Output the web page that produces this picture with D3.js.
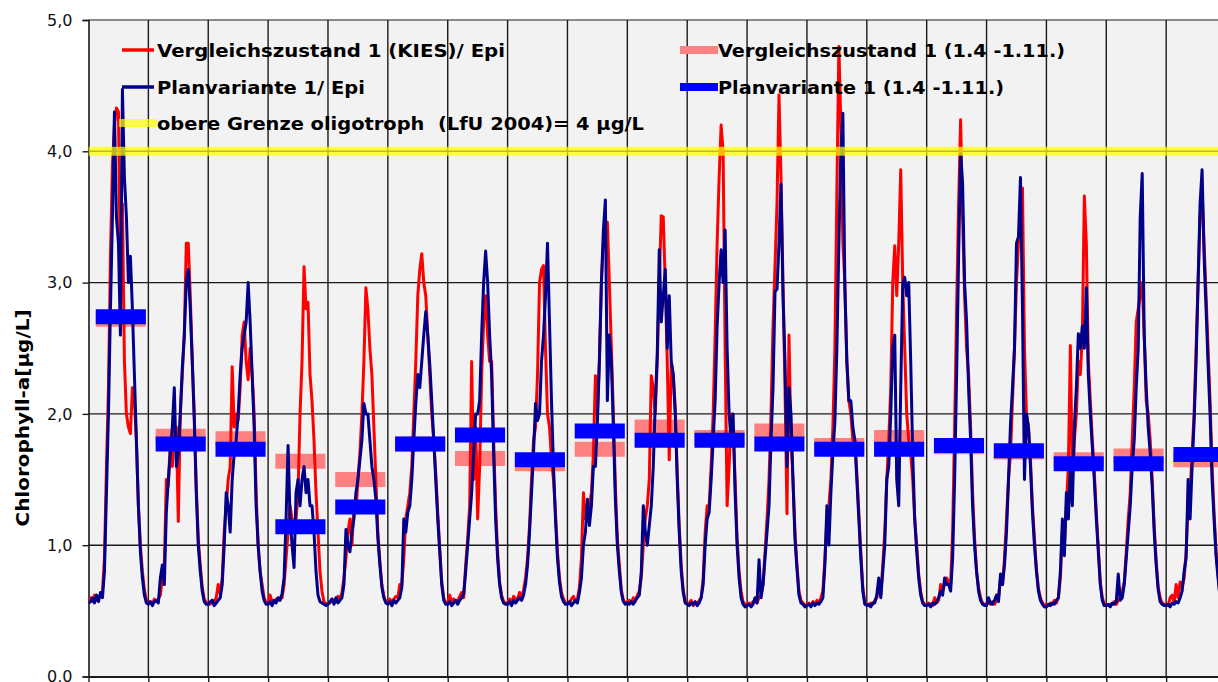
<!DOCTYPE html>
<html><head><meta charset="utf-8">
<script src="https://cdn.jsdelivr.net/npm/d3@7"></script>
<style>
body{margin:0;background:#fff;}
svg{display:block;}
text{font-family:"DejaVu Sans",Verdana,sans-serif;white-space:pre;}
</style>
</head><body>
<svg id="chart" width="1218" height="682"></svg>
<script>
// ---------------- data ----------------
const simYears = [1,2,3,4,5,6,7,8,9,10,11,12,13,14,15,16,17,18,19];
const samplesPerYear = 30;            // samples per year
// Vergleichszustand 1 (KIES) / Epi  (one row per year)
const kiesEpi = [
[0.57,0.6,0.57,0.62,0.58,0.6,0.62,0.65,0.9,1.6,2.2,3.2,3.9,4.2,4.33,4.3,3.0,3.6,2.4,2.0,1.9,1.85,2.2,2.1,1.8,1.3,1.0,0.8,0.66,0.58],
[0.56,0.57,0.55,0.59,0.57,0.59,0.62,0.75,0.85,1.5,1.45,1.8,1.6,1.9,1.9,1.18,2.0,2.3,2.6,3.3,3.3,2.9,2.4,2.0,1.45,1.05,0.85,0.68,0.59,0.56],
[0.56,0.55,0.58,0.57,0.6,0.7,0.63,0.75,1.1,1.3,1.5,1.6,2.36,1.9,2.0,1.95,2.2,2.6,2.7,2.4,2.26,2.5,2.3,2.0,1.4,1.0,0.8,0.7,0.6,0.56],
[0.56,0.62,0.57,0.57,0.59,0.58,0.6,0.6,0.7,0.9,1.1,1.3,1.2,1.1,1.2,1.4,2.0,2.4,3.12,2.8,2.85,2.3,2.1,1.8,1.4,1.1,0.8,0.65,0.57,0.55],
[0.56,0.56,0.59,0.57,0.57,0.61,0.59,0.64,0.75,0.9,1.1,1.2,1.0,1.3,1.25,1.5,1.7,2.0,2.4,2.96,2.8,2.5,2.3,1.9,1.5,1.1,0.88,0.7,0.61,0.57],
[0.56,0.59,0.57,0.59,0.61,0.6,0.7,0.7,0.9,1.2,1.3,1.4,1.6,2.0,2.4,2.9,3.1,3.22,3.0,2.9,2.6,2.3,2.0,1.8,1.55,1.25,0.98,0.72,0.6,0.56],
[0.56,0.62,0.57,0.59,0.57,0.58,0.61,0.64,0.6,0.85,1.05,1.3,2.4,1.5,1.9,1.2,1.6,2.3,2.7,2.9,2.6,2.4,2.4,1.8,1.3,0.95,0.72,0.62,0.57,0.56],
[0.56,0.59,0.56,0.61,0.59,0.59,0.64,0.6,0.66,0.75,0.9,1.15,1.5,1.8,1.9,2.3,3.0,3.1,3.13,2.5,2.0,1.9,1.65,1.5,1.25,0.95,0.75,0.64,0.59,0.56],
[0.56,0.56,0.59,0.61,0.57,0.59,0.68,0.9,1.4,1.2,1.3,1.3,1.4,1.7,2.29,2.0,2.4,3.0,3.3,3.4,3.46,3.0,2.5,2.0,1.45,1.05,0.85,0.66,0.58,0.56],
[0.57,0.58,0.56,0.6,0.57,0.62,0.65,0.75,1.0,1.2,1.3,1.5,2.29,2.2,2.0,2.4,3.0,3.51,3.5,3.0,2.4,1.65,2.4,2.3,2.05,1.55,1.15,0.85,0.66,0.57],
[0.55,0.56,0.58,0.54,0.56,0.55,0.58,0.6,0.75,1.1,1.3,1.3,1.6,2.0,2.6,3.3,3.8,4.2,4.0,2.5,1.3,1.6,2.0,1.9,1.5,1.05,0.8,0.65,0.57,0.55],
[0.55,0.56,0.55,0.57,0.58,0.56,0.6,0.62,0.7,0.95,1.2,1.5,2.0,2.67,3.13,3.6,4.43,3.8,3.0,2.2,1.24,2.6,1.8,1.5,1.1,0.85,0.65,0.58,0.56,0.54],
[0.55,0.56,0.54,0.57,0.55,0.58,0.56,0.6,0.65,0.9,1.2,1.3,1.5,1.9,2.5,3.7,4.8,4.2,3.3,3.0,2.4,2.1,2.0,1.8,1.8,1.55,1.25,0.95,0.68,0.56],
[0.55,0.54,0.56,0.55,0.58,0.6,0.7,0.62,0.85,1.1,1.5,1.8,2.2,3.0,3.28,2.9,3.3,3.86,3.0,2.5,2.0,1.8,1.7,1.5,1.2,1.0,0.78,0.65,0.57,0.55],
[0.55,0.56,0.55,0.54,0.6,0.56,0.58,0.7,0.65,0.7,0.75,0.72,0.7,1.1,1.9,2.8,3.6,4.24,3.5,2.9,2.5,2.3,1.9,1.4,1.05,0.8,0.68,0.6,0.56,0.55],
[0.55,0.56,0.55,0.57,0.55,0.58,0.6,0.75,0.7,0.9,1.2,1.5,1.7,2.1,2.5,3.0,3.3,3.4,3.72,2.5,2.0,1.9,1.65,1.3,1.05,0.82,0.67,0.6,0.56,0.54],
[0.55,0.54,0.56,0.55,0.58,0.56,0.6,0.75,1.1,1.0,1.3,1.6,2.52,1.5,1.8,2.0,2.4,2.3,2.6,3.66,3.3,2.4,2.1,1.8,1.55,1.25,0.98,0.72,0.6,0.55],
[0.55,0.54,0.55,0.55,0.57,0.55,0.58,0.6,0.65,0.72,0.95,1.2,1.4,1.8,2.2,2.7,2.8,2.9,3.0,2.6,2.1,2.0,1.8,1.5,1.15,0.88,0.68,0.6,0.56,0.55],
[0.55,0.54,0.6,0.62,0.56,0.7,0.6,0.72,0.68,0.75,0.95,1.3,1.4,1.7,2.0,2.5,3.0,3.5,3.7,3.3,2.9,2.5,2.1,1.6,1.25,0.95,0.78,0.62,0.57,0.55]
];
// Planvariante 1 / Epi
const planEpi = [
[0.56,0.57,0.6,0.56,0.62,0.57,0.64,0.6,0.8,1.4,2.0,2.8,3.5,4.3,3.5,3.3,2.6,4.47,3.8,3.5,3.0,3.2,2.8,2.3,1.8,1.3,0.95,0.75,0.62,0.56],
[0.55,0.57,0.54,0.57,0.58,0.56,0.75,0.85,0.7,1.25,1.5,1.7,1.9,2.2,1.6,1.7,2.0,2.35,2.6,3.0,3.1,2.8,2.4,1.95,1.4,1.0,0.8,0.65,0.57,0.55],
[0.55,0.57,0.58,0.54,0.56,0.58,0.6,0.7,1.0,1.4,1.3,1.1,1.5,1.7,1.8,2.0,2.3,2.5,2.6,2.7,3.0,2.7,2.3,1.9,1.3,1.0,0.8,0.65,0.58,0.55],
[0.55,0.57,0.54,0.58,0.56,0.6,0.58,0.63,0.75,1.2,1.76,1.2,1.0,0.83,1.4,1.5,1.3,1.5,1.6,1.4,1.5,1.3,1.3,1.1,0.8,0.62,0.57,0.56,0.55,0.54],
[0.55,0.57,0.59,0.55,0.6,0.56,0.58,0.6,0.7,1.12,1.0,0.95,1.1,1.2,1.4,1.5,1.65,1.8,2.08,2.0,2.0,1.8,1.6,1.5,1.35,1.05,0.85,0.68,0.6,0.56],
[0.55,0.57,0.54,0.58,0.56,0.58,0.6,0.68,1.2,1.1,1.25,1.3,1.5,1.8,2.08,2.3,2.2,2.4,2.6,2.78,2.6,2.38,2.1,1.8,1.5,1.2,0.95,0.7,0.58,0.55],
[0.55,0.57,0.54,0.56,0.58,0.55,0.58,0.6,0.63,0.8,1.0,1.2,1.4,1.7,2.0,2.0,2.1,2.6,3.0,3.24,3.0,2.6,2.3,1.7,1.2,0.9,0.7,0.6,0.56,0.55],
[0.55,0.57,0.54,0.58,0.56,0.58,0.6,0.58,0.62,0.7,0.85,1.1,1.4,1.7,2.08,1.95,2.0,2.4,2.6,2.9,3.3,2.7,2.1,1.6,1.2,0.9,0.72,0.61,0.57,0.55],
[0.55,0.57,0.54,0.56,0.58,0.56,0.64,0.75,1.0,1.1,1.35,1.15,1.3,1.6,1.6,1.94,2.4,3.0,3.4,3.63,2.1,2.6,2.4,1.9,1.35,1.0,0.8,0.64,0.57,0.55],
[0.56,0.55,0.57,0.55,0.58,0.6,0.62,0.8,1.3,1.1,1.0,1.15,1.3,1.6,2.08,2.46,3.25,2.7,2.9,3.1,2.5,2.9,2.4,2.3,2.0,1.5,1.1,0.8,0.64,0.56],
[0.55,0.54,0.56,0.55,0.57,0.54,0.56,0.6,0.7,1.0,1.2,1.25,1.5,1.8,2.1,2.67,3.0,3.25,3.0,3.4,2.5,2.0,1.8,2.0,1.4,1.0,0.75,0.6,0.55,0.53],
[0.54,0.55,0.53,0.55,0.6,0.56,0.89,0.6,0.7,0.9,1.1,1.3,1.8,2.2,2.93,2.95,3.3,3.75,2.9,2.4,1.6,2.2,2.0,1.5,1.05,0.82,0.62,0.56,0.55,0.53],
[0.54,0.55,0.53,0.56,0.54,0.56,0.55,0.57,0.6,0.85,1.3,1.0,1.4,1.7,1.94,2.5,3.3,4.0,4.29,2.96,2.4,2.1,2.1,1.9,1.8,1.5,1.2,0.9,0.65,0.55],
[0.54,0.55,0.53,0.56,0.56,0.62,0.75,0.6,0.8,1.0,1.5,1.6,2.0,2.5,2.6,1.5,1.3,2.2,2.99,3.04,2.9,3.0,2.4,1.7,1.2,0.95,0.75,0.62,0.56,0.54],
[0.54,0.55,0.53,0.56,0.55,0.57,0.6,0.65,0.62,0.75,0.7,0.7,0.65,0.9,1.5,2.3,3.2,3.98,3.75,3.0,2.7,2.2,1.8,1.3,1.0,0.8,0.65,0.58,0.55,0.54],
[0.54,0.6,0.56,0.55,0.58,0.62,0.57,0.78,0.7,0.85,1.1,1.5,1.92,2.2,2.5,3.3,3.35,3.8,2.8,1.5,2.0,1.9,1.6,1.25,1.0,0.8,0.65,0.58,0.55,0.53],
[0.53,0.55,0.54,0.56,0.55,0.58,0.6,0.8,1.2,0.92,1.4,1.2,1.6,1.3,1.9,2.2,2.61,2.5,2.67,2.5,2.96,2.3,2.0,1.75,1.5,1.2,0.95,0.7,0.58,0.54],
[0.54,0.55,0.53,0.56,0.55,0.57,0.78,0.58,0.6,0.7,0.9,1.1,1.3,1.6,1.8,2.2,2.5,3.5,3.83,2.6,2.2,1.9,1.7,1.45,1.1,0.85,0.66,0.57,0.55,0.54],
[0.54,0.55,0.53,0.56,0.55,0.57,0.56,0.6,0.65,0.8,0.9,1.5,1.2,1.6,1.94,2.4,3.0,3.6,3.86,3.2,2.8,2.38,2.0,1.5,1.2,0.92,0.75,0.6,0.56,0.54]
];
// mean 1.4.-1.11. per year
const kiesMean = [2.72,1.83,1.81,1.64,1.50,1.77,1.66,1.62,1.73,1.90,1.82,1.87,1.76,1.82,1.75,1.71,1.65,1.68,1.65];
const planMean = [2.74,1.77,1.73,1.14,1.29,1.77,1.84,1.65,1.87,1.80,1.80,1.77,1.73,1.73,1.76,1.72,1.62,1.62,1.69];
const periodStartDay = 90;   // 1.4.
const periodEndDay = 304;    // 1.11.
const daysPerYear = 365;
const oligoLimit = 4;
const yTickValues = [0,1,2,3,4,5];
const yTickLabels = ["0,0","1,0","2,0","3,0","4,0","5,0"];
const legendLeft = [
  {label:"Vergleichszustand 1 (KIES)/ Epi", key:"kiesLine"},
  {label:"Planvariante 1/ Epi", key:"planLine"},
  {label:"obere Grenze oligotroph  (LfU 2004)= 4 µg/L", key:"limit"}
];
const legendRight = [
  {label:"Vergleichszustand 1 (1.4 -1.11.)", key:"kiesBar"},
  {label:"Planvariante 1 (1.4 -1.11.)", key:"planBar"}
];

// ---------------- styles ----------------
const C = {
  kiesLine:"#ff0000", planLine:"#00008b", limit:"rgba(255,255,0,0.72)",
  kiesBar:"#ff8080", planBar:"#0000ff", bg:"#f2f2f2", grid:"#1a1a1a"
};

// ---------------- layout ----------------
const svg = d3.select("#chart");
const L = 88.5, T = 20, B = 676.5, yearPx = 59.87;
const nYears = simYears.length;
const x = d3.scaleLinear().domain([0, nYears]).range([L, L + yearPx*nYears]);
const y = d3.scaleLinear().domain([0, 5]).range([B, T]);

svg.append("rect").attr("x", L).attr("y", T).attr("width", x(nYears)-L).attr("height", B-T).attr("fill", C.bg);

// horizontal grid
svg.append("g").selectAll("line").data(yTickValues.filter(v=>v>0)).join("line")
  .attr("x1", L).attr("x2", x(nYears)).attr("y1", d=>y(d)).attr("y2", d=>y(d))
  .attr("stroke", d=> d===5 ? "#8a8a8a" : C.grid).attr("stroke-width", d=> d===5 ? 2.2 : 1.4);
// vertical grid (year boundaries)
svg.append("g").selectAll("line").data(d3.range(1, nYears+1)).join("line")
  .attr("x1", d=>x(d)).attr("x2", d=>x(d)).attr("y1", T).attr("y2", B)
  .attr("stroke", C.grid).attr("stroke-width", 1.4);

// y axis
const yAxis = d3.axisLeft(y).tickValues(yTickValues).tickFormat((d,i)=>yTickLabels[i]).tickSize(6).tickPadding(10);
const gy = svg.append("g").attr("transform", `translate(${L},0)`).call(yAxis);
gy.select(".domain").attr("stroke", C.grid).attr("stroke-width", 1.6);
gy.selectAll(".tick line").attr("stroke", C.grid).attr("stroke-width", 1.4);
gy.selectAll(".tick text").attr("font-size", 16).attr("fill", "#111").style("font-family", '"DejaVu Sans",Verdana,sans-serif');

// x axis (year boundaries, no labels)
const xAxis = d3.axisBottom(x).tickValues(d3.range(0, nYears+1)).tickFormat("").tickSize(7).tickSizeOuter(0);
const gx = svg.append("g").attr("transform", `translate(0,${B})`).call(xAxis);
gx.select(".domain").attr("stroke", C.grid).attr("stroke-width", 1.8);
gx.selectAll(".tick line").attr("stroke", C.grid).attr("stroke-width", 1.4);

// y title
svg.append("text").attr("transform", "translate(22,418) rotate(-90)")
  .attr("text-anchor", "middle").attr("dominant-baseline", "central")
  .attr("font-size", 18).attr("font-weight", "bold").attr("fill", "#000")
  .attr("textLength", 217).attr("lengthAdjust", "spacingAndGlyphs")
  .text("Chlorophyll-a[µg/L]");

// clip
svg.append("clipPath").attr("id", "plotClip").append("rect")
  .attr("x", L).attr("y", 0).attr("width", x(nYears)-L).attr("height", B);
const plot = svg.append("g").attr("clip-path", "url(#plotClip)");

// mean bars
function barData(means){
  return means.map((m,i)=>({x0:i+periodStartDay/daysPerYear, x1:i+periodEndDay/daysPerYear, v:m}));
}
plot.append("g").selectAll("line").data(barData(kiesMean)).join("line")
  .attr("x1", d=>x(d.x0)).attr("x2", d=>x(d.x1)).attr("y1", d=>y(d.v)).attr("y2", d=>y(d.v))
  .attr("stroke", C.kiesBar).attr("stroke-width", 15).attr("stroke-linecap", "square");

// time series
function flatten(rows){
  const out = [];
  rows.forEach((row,i)=>row.forEach((v,k)=>out.push({t:i + k/samplesPerYear, v})));
  return out;
}
const line = d3.line().x(d=>x(d.t)).y(d=>y(d.v));
plot.append("path").datum(flatten(kiesEpi)).attr("d", line)
  .attr("fill", "none").attr("stroke", C.kiesLine).attr("stroke-width", 3).attr("stroke-linejoin", "round");
plot.append("path").datum(flatten(planEpi)).attr("d", line)
  .attr("fill", "none").attr("stroke", C.planLine).attr("stroke-width", 3).attr("stroke-linejoin", "round");

plot.append("g").selectAll("line").data(barData(planMean)).join("line")
  .attr("x1", d=>x(d.x0)).attr("x2", d=>x(d.x1)).attr("y1", d=>y(d.v)).attr("y2", d=>y(d.v))
  .attr("stroke", C.planBar).attr("stroke-width", 15).attr("stroke-linecap", "square");

// limit line
plot.append("line").attr("x1", L).attr("x2", x(nYears)).attr("y1", y(oligoLimit)).attr("y2", y(oligoLimit))
  .attr("stroke", C.limit).attr("stroke-width", 9);

// legend
const legStyle = {
  kiesLine:{w:3.5, x0:122, x1:154}, planLine:{w:3.5, x0:122, x1:154}, limit:{w:8, x0:119, x1:157},
  kiesBar:{w:8, x0:680, x1:718}, planBar:{w:8, x0:680, x1:718}
};
const leftRows = [50, 87, 123];
const textLen = {
  "Vergleichszustand 1 (KIES)/ Epi":348, "Planvariante 1/ Epi":208,
  "obere Grenze oligotroph  (LfU 2004)= 4 µg/L":487,
  "Vergleichszustand 1 (1.4 -1.11.)":347, "Planvariante 1 (1.4 -1.11.)":286
};
function drawLegend(items, textX){
  const g = svg.append("g");
  items.forEach((it,i)=>{
    const s = legStyle[it.key];
    g.append("line").attr("x1", s.x0).attr("x2", s.x1).attr("y1", leftRows[i]).attr("y2", leftRows[i])
      .attr("stroke", C[it.key]).attr("stroke-width", s.w);
    g.append("text").attr("x", textX).attr("y", leftRows[i]+6.5)
      .attr("font-size", 18.5).attr("font-weight", "bold").attr("fill", "#000")
      .attr("textLength", textLen[it.label]).attr("lengthAdjust", "spacingAndGlyphs")
      .text(it.label);
  });
}
drawLegend(legendLeft, 157);
drawLegend(legendRight, 718);
</script>
</body></html>
